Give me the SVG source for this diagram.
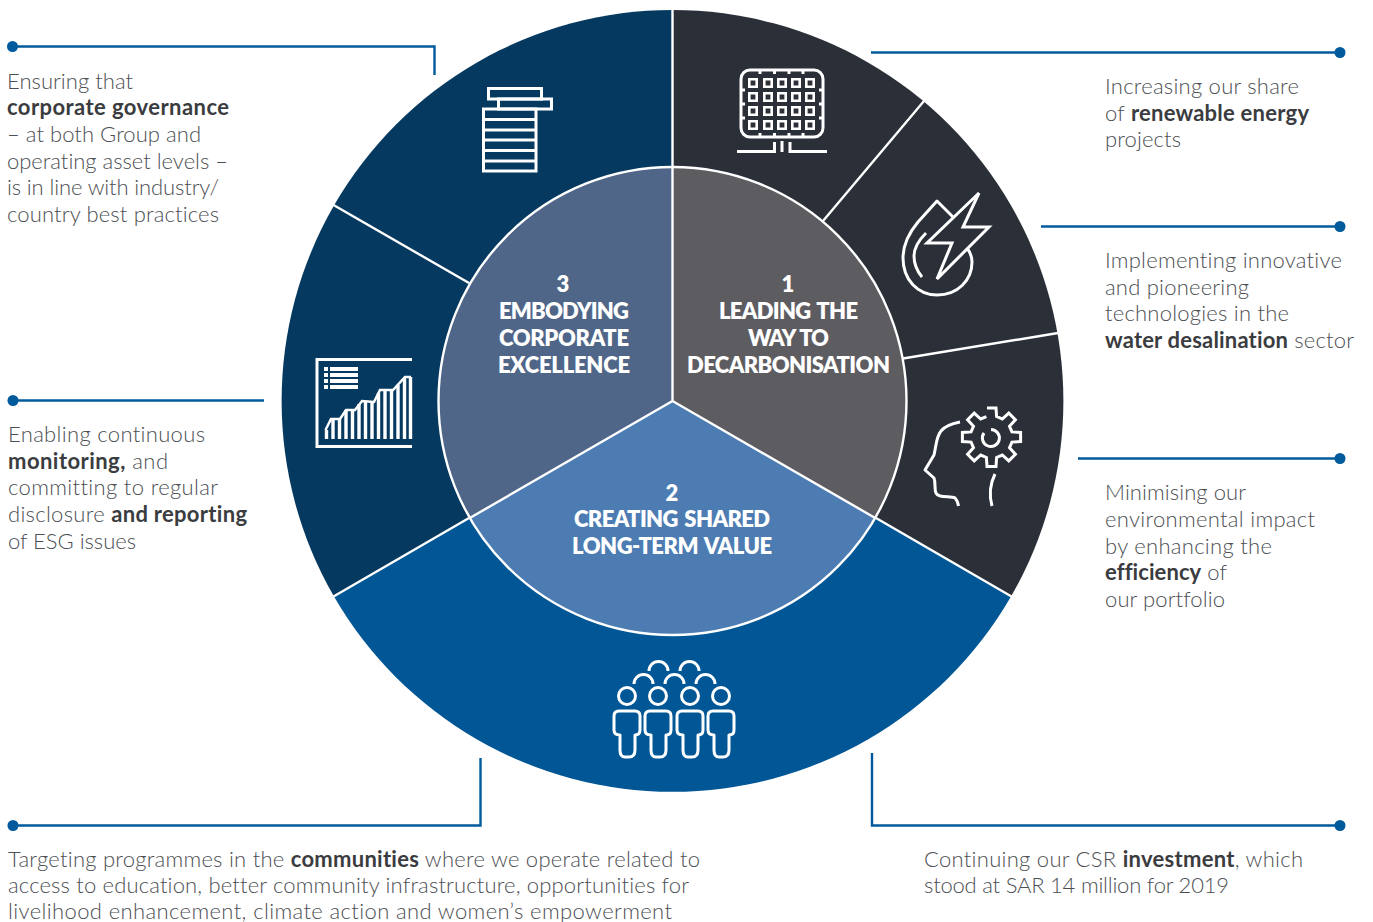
<svg xmlns="http://www.w3.org/2000/svg" width="1373" height="922" viewBox="0 0 1373 922">
<style>
text{font-family:"Lato","Open Sans","Liberation Sans",sans-serif;font-variant-ligatures:none}
.b{font-size:22px;font-weight:300;fill:#4d4f53}
.b tspan.s{font-weight:700;fill:#3a3c40}
.c{font-size:22px;font-weight:800;fill:#fff;text-anchor:middle;word-spacing:2px}
.l{fill:none;stroke:#005a9c;stroke-width:2.4}
.d{fill:#005a9c}
.sep{stroke:#fff;stroke-width:2.4;fill:none}
.i{fill:none;stroke:#fff;stroke-width:3;stroke-linejoin:miter}
.i2{fill:none;stroke:#fff;stroke-width:3;stroke-linecap:butt;stroke-linejoin:round}
</style>
<rect width="1373" height="922" fill="#fff"/>
<g id="ring">
<path d="M672.500 401V10A391 391 0 0 1 1011 596.500Z" fill="#2a2f38"/>
<path d="M672.500 401L1011 596.500A391 391 0 0 1 334 596.500Z" fill="#015695"/>
<path d="M672.500 401L334 596.500A391 391 0 0 1 672.500 10Z" fill="#05395f"/>
<path class="sep" d="M672.500 9V167M823 221L924 101M903 358.500L1058 333M876 518L1011.500 596.500M469 518L333.500 596.500M469 283L333.500 205"/>
</g>
<g id="core">
<path d="M672.500 401V167A234 234 0 0 1 875.200 518Z" fill="#5d5c61"/>
<path d="M672.500 401L875.200 518A234 234 0 0 1 469.800 518Z" fill="#4c7cb2"/>
<path d="M672.500 401L469.800 518A234 234 0 0 1 672.500 167Z" fill="#4f6688"/>
<circle cx="672.500" cy="401" r="234" fill="none" stroke="#fff" stroke-width="2.400"/>
<path class="sep" d="M672.500 167V401M672.500 401L875.200 518M672.500 401L469.800 518"/>
</g>
<g id="node-1">
<text class="c" x="788" y="292">1</text>
<text class="c" x="788.500" y="318.500" textLength="139">LEADING THE</text>
<text class="c" x="788.500" y="345.500" textLength="81">WAY TO</text>
<text class="c" x="788.500" y="372.500" textLength="203">DECARBONISATION</text>
</g>
<g id="node-2">
<text class="c" x="672" y="501">2</text>
<text class="c" x="672" y="527" textLength="196">CREATING SHARED</text>
<text class="c" x="672" y="554" textLength="200">LONG-TERM VALUE</text>
</g>
<g id="node-3">
<text class="c" x="563" y="292">3</text>
<text class="c" x="564" y="318.500" textLength="130">EMBODYING</text>
<text class="c" x="564" y="345.500" textLength="130">CORPORATE</text>
<text class="c" x="564" y="372.500" textLength="132">EXCELLENCE</text>
</g>
<g id="icon-governance" class="i">
<rect x="488.500" y="88.500" width="53" height="10.500"/>
<rect x="498.500" y="99" width="53" height="10"/>
<path d="M483.500 109H536V171H483.500ZM483.500 119.500H536M483.500 130H536M483.500 140H536M483.500 150.500H536M483.500 161H536"/>
</g>
<g id="icon-solar">
<rect x="741" y="70" width="82" height="67" rx="9" class="i"/>
<g fill="none" stroke="#fff" stroke-width="2.600">
<path d="M749.300 79.300h7.400v7.400h-7.400zM764.300 79.300h7.400v7.400h-7.400zM778.300 79.300h7.400v7.400h-7.400zM792.300 79.300h7.400v7.400h-7.400zM806.300 79.300h7.400v7.400h-7.400z"/>
<path d="M749.300 93.300h7.400v7.400h-7.400zM764.300 93.300h7.400v7.400h-7.400zM778.300 93.300h7.400v7.400h-7.400zM792.300 93.300h7.400v7.400h-7.400zM806.300 93.300h7.400v7.400h-7.400z"/>
<path d="M749.300 107.300h7.400v7.400h-7.400zM764.300 107.300h7.400v7.400h-7.400zM778.300 107.300h7.400v7.400h-7.400zM792.300 107.300h7.400v7.400h-7.400zM806.300 107.300h7.400v7.400h-7.400z"/>
<path d="M749.300 121.300h7.400v7.400h-7.400zM764.300 121.300h7.400v7.400h-7.400zM778.300 121.300h7.400v7.400h-7.400zM792.300 121.300h7.400v7.400h-7.400zM806.300 121.300h7.400v7.400h-7.400z"/>
</g>
<path class="i" d="M760 70v4M774.500 70v4M789 70v4M803 70v4M760 133v4M774.500 133v4M789 133v4M803 133v4M741 90h4M741 104h4M741 118h4M819 90h4M819 104h4M819 118h4"/>
<path class="i" d="M737 151.500H774.500V142M790 142V151.500H827M782 141V152"/>
</g>
<g id="icon-water" class="i2">
<path d="M953 217L937 201L918 222C908 234 903 245 903 258C903 280 918 295 937 295C958 295 972 280 972 262C972 257 970 252 967 248"/>
<path d="M926 233C918 241 914 249 914 256C914 264 917 271 922 277"/>
<path d="M979 193L963 227H989L937 279L952 243H927Z" stroke-linejoin="miter"/>
</g>
<g id="icon-mind" class="i2">
<path d="M960 422C950 424 944 427 941 431C936 437 936 447 934 455L925 470L934 478C936 483 934 489 936 493C938 498 950 496 955 498C957 500 958 503 958.500 506"/>
<path d="M995 474C990 484 989 495 992 506"/>
<path d="M987 408H996L996.600 416.600L1002.300 419L1008.800 413.100L1015.400 419.700L1009.500 426.200L1011.900 431.900L1020.600 432.400V441.600L1011.900 442.100L1009.500 447.800L1015.400 454.300L1008.800 460.900L1002.300 455L996.600 457.400L996 466.500H987L986.400 457.400L980.700 455L974.200 460.900L967.600 454.300L973.500 447.800L971.100 442.100L962.400 441.600V432.400L971.100 431.900L973.500 426.200L967.600 419.700L974.200 413.100L980.700 419L986.400 416.600" stroke-linejoin="miter"/>
<path d="M991 429.500A8.500 8.500 0 1 1 984 433"/>
</g>
<g id="icon-people" class="i2">
<path d="M649 671A9.500 9.500 0 0 1 668 671M680 671A9.500 9.500 0 0 1 699 671M634 684A9.500 9.500 0 0 1 653 684M665 684A9.500 9.500 0 0 1 684 684M696 684A9.500 9.500 0 0 1 715 684"/>
<circle cx="627" cy="696" r="8.500"/><circle cx="658" cy="696" r="8.500"/><circle cx="690" cy="696" r="8.500"/><circle cx="721" cy="696" r="8.500"/>
<path d="M619 711H635Q640 711 640 716V730Q640 735 635 735V750Q635 757 629 757H625Q620 757 620 750V735Q614 735 614 730V716Q614 711 619 711Z"/>
<path d="M650 711H666Q671 711 671 716V730Q671 735 666 735V750Q666 757 660 757H656Q651 757 651 750V735Q645 735 645 730V716Q645 711 650 711Z"/>
<path d="M682 711H698Q703 711 703 716V730Q703 735 698 735V750Q698 757 692 757H688Q683 757 683 750V735Q677 735 677 730V716Q677 711 682 711Z"/>
<path d="M713 711H729Q734 711 734 716V730Q734 735 729 735V750Q729 757 723 757H719Q714 757 714 750V735Q708 735 708 730V716Q708 711 713 711Z"/>
</g>
<g id="icon-chart">
<path class="i" d="M412 359.500H317V446.500H412"/>
<path d="M324 367h4v4h-4zM324 373h4v4h-4zM324 379h4v4h-4zM324 385h4v4h-4zM330 367h28v4h-28zM330 373h28v4h-28zM330 379h28v4h-28zM330 385h28v4h-28z" fill="#fff"/>
<path d="M325.500 430L331 419H340L346 410H355L362 401L374 402L380 390H393L405 377H411" fill="none" stroke="#fff" stroke-width="2.500"/>
<path d="M326.500 439V430M333 439V419M339.500 439V419M346 439V410M352.500 439V410M359 439V404M365.500 439V401M372 439V402M378.500 439V393M385 439V390M391.500 439V390M398 439V385M404.500 439V378M410.500 439V377" stroke="#fff" stroke-width="3.400" fill="none"/>
</g>
<g id="connectors">
<path class="l" d="M12 46.500H434.500V75"/>
<path class="l" d="M871 52.500H1340"/>
<path class="l" d="M1041 226.500H1340"/>
<path class="l" d="M1078 458.500H1340"/>
<path class="l" d="M13 400.500H264"/>
<path class="l" d="M13 825.500H480.500V758"/>
<path class="l" d="M872 753V825.500H1340"/>
<circle class="d" cx="12.500" cy="46.500" r="5.500"/>
<circle class="d" cx="1340" cy="52.500" r="5.500"/>
<circle class="d" cx="1340" cy="226.500" r="5.500"/>
<circle class="d" cx="1340" cy="458.500" r="5.500"/>
<circle class="d" cx="13" cy="400.500" r="5.500"/>
<circle class="d" cx="13" cy="825.500" r="5.500"/>
<circle class="d" cx="1340" cy="825.500" r="5.500"/>
</g>
<g id="label-governance">
<text class="b" x="7" y="89" textLength="126">Ensuring that</text>
<text class="b" x="7" y="115" textLength="222"><tspan class="s">corporate governance</tspan></text>
<text class="b" x="7" y="142" textLength="194">– at both Group and</text>
<text class="b" x="7" y="169" textLength="221">operating asset levels –</text>
<text class="b" x="7" y="195" textLength="212">is in line with industry/</text>
<text class="b" x="7" y="222" textLength="212">country best practices</text>
</g>
<g id="label-monitoring">
<text class="b" x="8" y="442" textLength="197">Enabling continuous</text>
<text class="b" x="8" y="469" textLength="160"><tspan class="s">monitoring,</tspan> and</text>
<text class="b" x="8" y="495" textLength="210">committing to regular</text>
<text class="b" x="8" y="522" textLength="239">disclosure <tspan class="s">and reporting</tspan></text>
<text class="b" x="8" y="549" textLength="128">of ESG issues</text>
</g>
<g id="label-communities">
<text class="b" x="8" y="867" textLength="692">Targeting programmes in the <tspan class="s">communities</tspan> where we operate related to</text>
<text class="b" x="8" y="893" textLength="681">access to education, better community infrastructure, opportunities for</text>
<text class="b" x="8" y="919" textLength="664">livelihood enhancement, climate action and women’s empowerment</text>
</g>
<g id="label-investment">
<text class="b" x="924" y="867" textLength="379">Continuing our CSR <tspan class="s">investment</tspan>, which</text>
<text class="b" x="924" y="893" textLength="305">stood at SAR 14 million for 2019</text>
</g>
<g id="label-renewable">
<text class="b" x="1105" y="94" textLength="194">Increasing our share</text>
<text class="b" x="1105" y="121" textLength="204">of <tspan class="s">renewable energy</tspan></text>
<text class="b" x="1105" y="147" textLength="76">projects</text>
</g>
<g id="label-desalination">
<text class="b" x="1105" y="268" textLength="237">Implementing innovative</text>
<text class="b" x="1105" y="295" textLength="144">and pioneering</text>
<text class="b" x="1105" y="321" textLength="184">technologies in the</text>
<text class="b" x="1105" y="348" textLength="249"><tspan class="s">water desalination</tspan> sector</text>
</g>
<g id="label-efficiency">
<text class="b" x="1105" y="500" textLength="141">Minimising our</text>
<text class="b" x="1105" y="527" textLength="210">environmental impact</text>
<text class="b" x="1105" y="554" textLength="167">by enhancing the</text>
<text class="b" x="1105" y="580" textLength="122"><tspan class="s">efficiency</tspan> of</text>
<text class="b" x="1105" y="607" textLength="120">our portfolio</text>
</g>
</svg>
